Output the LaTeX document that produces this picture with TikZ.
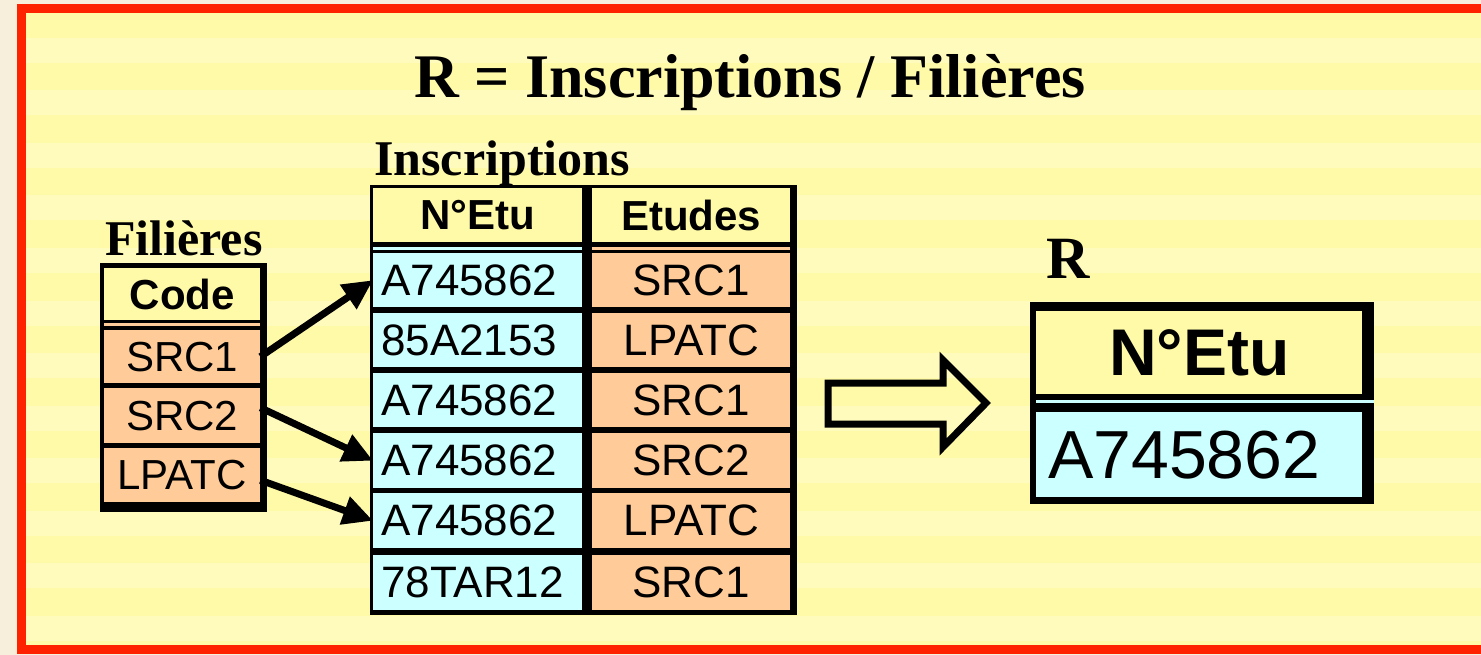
\documentclass[tikz,border=0pt]{standalone}
\usepackage{fontspec}
\setmainfont{Liberation Serif}
\setsansfont{Liberation Sans}
\usepackage{xcolor}
\usepackage{tikz}
\usetikzlibrary{arrows.meta,positioning,calc}

\definecolor{bgyellow}{HTML}{FFFAA8}
\definecolor{bgstripe}{HTML}{FFFBBC}
\definecolor{framered}{HTML}{FF2200}
\definecolor{outside}{HTML}{F7EEDC}
\definecolor{cellcyan}{HTML}{CCFFFF}
\definecolor{cellpeach}{HTML}{FFCC99}

\newcommand{\fsz}[1]{\fontsize{#1}{#1}\selectfont}

\begin{document}
\begin{tikzpicture}[
    x=1pt, y=-1pt,
    % one cell of a table, placed by its top left corner
    cell/.style={rectangle, inner sep=0pt, anchor=north west, font=\sffamily\fsz{44}},
    headcell/.style={cell, fill=bgyellow, font=\sffamily\bfseries\fsz{42}},
    % Code column of Filieres
    codecell/.style={cell, fill=cellpeach, font=\sffamily\fsz{42}, minimum width=156pt, minimum height=54pt},
    % N°Etu and Etudes columns of Inscriptions
    nocell/.style={cell, fill=cellcyan, text width=193pt, inner xsep=8pt, align=left, minimum height=54pt},
    studcell/.style={cell, fill=cellpeach, minimum width=198pt, minimum height=54pt},
    tabshadow/.style={fill=black},
    tablabel/.style={anchor=base west, inner sep=0pt, font=\bfseries\fsz{50}},
    relarrow/.style={line width=7pt, -{Triangle[length=30pt,width=28pt]}},
  ]
  % page, stripes and red frame
  \clip (0,0) rectangle (1481,655);
  \fill[outside] (0,0) rectangle (1481,655);
  \fill[bgyellow] (21,9) rectangle (1500,649);
  \foreach \i in {0,...,11}
    \fill[bgstripe] (26,38+52.5*\i) rectangle (1500,63+52.5*\i);
  \draw[framered, line width=9pt] (21,9) rectangle (1500,649);

  \node[anchor=base, inner sep=0pt, font=\bfseries\fsz{62}] (title) at (750,98) {R = Inscriptions / Filières};

  \node[tablabel] (lblfil) at (105,255) {Filières};
  \node[tablabel] (lblins) at (374,176) {Inscriptions};
  \node[tablabel, font=\bfseries\fsz{60}] (lblres) at (1046,278) {R};

  % Filieres
  \fill[tabshadow] (100,263) rectangle (267,512);
  \node[headcell, minimum width=156pt, minimum height=52pt] (code) at (104,268) {Code};
  \fill[cellpeach] (104,323) rectangle (260,326);
  \node[codecell, minimum height=53pt] (src1) at (104,330) {SRC1};
  \node[codecell, minimum height=55pt] (src2) at (104,388) {SRC2};
  \node[codecell] (lpatc) at (104,448) {LPATC};

  % Inscriptions
  \fill[tabshadow] (370,185) rectangle (797,615);
  \node[headcell, minimum width=209pt, minimum height=54pt] (netu) at (373,188) {N°Etu};
  \node[headcell, minimum width=198pt, minimum height=54pt] (etudes) at (592,188) {Etudes};
  \fill[cellcyan] (373,247) rectangle (582,250);
  \fill[cellpeach] (592,247) rectangle (790,250);
  \node[nocell] (ins1) at (373,253) {A745862};
  \node[studcell] (etu1) at (592,253) {SRC1};
  \node[nocell] (ins2) at (373,313) {85A2153};
  \node[studcell] (etu2) at (592,313) {LPATC};
  \node[nocell] (ins3) at (373,373) {A745862};
  \node[studcell] (etu3) at (592,373) {SRC1};
  \node[nocell, minimum height=55pt] (ins4) at (373,433) {A745862};
  \node[studcell, minimum height=55pt] (etu4) at (592,433) {SRC2};
  \node[nocell, minimum height=55pt] (ins5) at (373,493) {A745862};
  \node[studcell, minimum height=55pt] (etu5) at (592,493) {LPATC};
  \node[nocell, minimum height=55pt] (ins6) at (373,555) {78TAR12};
  \node[studcell, minimum height=55pt] (etu6) at (592,555) {SRC1};

  \draw[relarrow] (src1.east) -- (ins1.west);
  \draw[relarrow] ([yshift=8pt]src2.east) -- (ins4.west);
  \draw[relarrow] ([yshift=-5pt]lpatc.east) -- (ins5.west);

  % result
  \draw[line width=7pt, miter limit=20] (828,383) -- (943,383) -- (943,360) -- (986,403)
    -- (943,447) -- (943,424) -- (828,424) -- cycle;

  \fill[tabshadow] (1030,302) rectangle (1374,504);
  \node[headcell, font=\sffamily\bfseries\fsz{66}, minimum width=326pt, minimum height=83pt] (rnetu) at (1036,311) {N°Etu};
  \fill[cellcyan] (1036,400) rectangle (1374,403);
  \node[cell, fill=cellcyan, font=\sffamily\fsz{68}, text width=302pt, inner xsep=12pt, align=left, minimum height=85pt] (rins) at (1036,412) {A745862};
\end{tikzpicture}
\end{document}
